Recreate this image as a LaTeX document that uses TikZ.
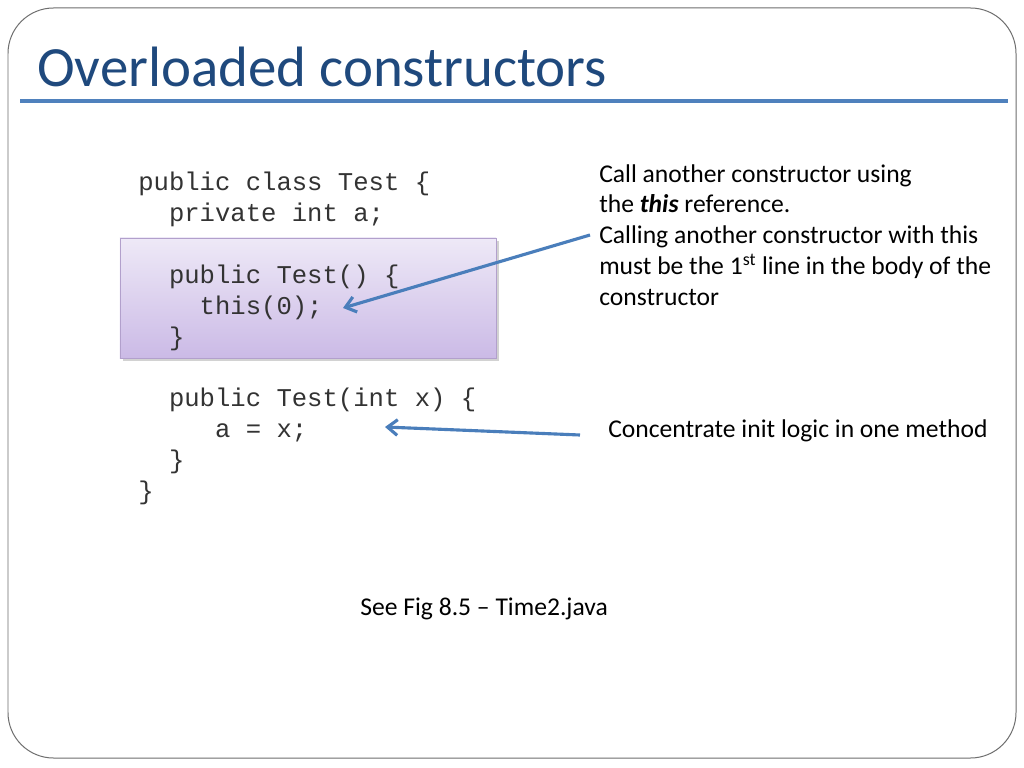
\documentclass[tikz,border=0pt]{standalone}
\usepackage{fontspec}
\setmainfont{Carlito}
\setmonofont{Liberation Mono}
\usetikzlibrary{arrows.meta,positioning,shadows}

\definecolor{titleblue}{RGB}{31,73,125}
\definecolor{ruleblue}{RGB}{79,129,189}
\definecolor{arrowblue}{RGB}{74,126,187}
\definecolor{boxtop}{RGB}{238,233,247}
\definecolor{boxbottom}{RGB}{203,186,230}
\definecolor{boxedge}{RGB}{178,160,204}
\definecolor{frame}{RGB}{110,110,110}

\begin{document}
\begin{tikzpicture}[
		x=0.703125pt, y=-0.703125pt,
		arrow/.style={-{Straight Barb[length=7pt,width=11pt]}, line width=2.2pt, arrowblue},
		code/.style={anchor=base west, inner sep=0pt, text=black!80, font=\fontsize{18}{21.6}\selectfont\ttfamily},
		note/.style={anchor=base west, inner sep=0pt, align=left, font=\fontsize{18}{21.6}\selectfont},
		ctorbox/.style={draw=boxedge, top color=boxtop, bottom color=boxbottom, minimum width=264.4pt, minimum height=84.4pt, drop shadow={shadow xshift=2pt, shadow yshift=-2pt, opacity=0.35}},
	]
		% slide
		\fill[white] (0,0) rectangle (1024,768);
		\draw[frame, line width=0.7pt, rounded corners=32pt] (8,8) rectangle (1016,758);
		\node (title) [anchor=base west, inner sep=0pt, text=titleblue, font=\fontsize{40}{48}\selectfont] at (37,87) {Overloaded constructors};
		\draw[ruleblue, line width=2.2pt] (20,101) -- (1008,101);
		
		% code
		\node (ctor) [ctorbox] at (308,298) {};
		\foreach \row/\ind/\txt [count=\i] in {0/0/{public class Test \{}, 1/2/{private int a;}, 3/2/{public Test() \{}, 4/4/{this(0);}, 5/2/\}, 7/2/{public Test(int x) \{}, 8/5/{a = x;}, 9/2/\}, 10/0/\}}
			\node (line\i) [code] at (138+15.36*\ind, 191+30.8*\row) {\txt};
		
		% notes (base is the last line)
		\node (thisnote) [note] at (599,305) {Call another constructor using\\the \textbf{\textit{this}} reference.\\Calling another constructor with this\\must be the 1\textsuperscript{st} line in the body of the\\constructor};
		\node (initnote) [note] at (608,437) {Concentrate init logic in one method};
		\node (fignote) [note] at (360,615) {See Fig 8.5 -- Time2.java};
		
		\coordinate (tail1) at (590,235);
		\coordinate (tip1) at (343,308);
		\coordinate (tail2) at (580,435);
		\coordinate (tip2) at (385,427);
		\draw[arrow] (tail1) -- (tip1);
		\draw[arrow] (tail2) -- (tip2);
	\end{tikzpicture}
\end{document}
